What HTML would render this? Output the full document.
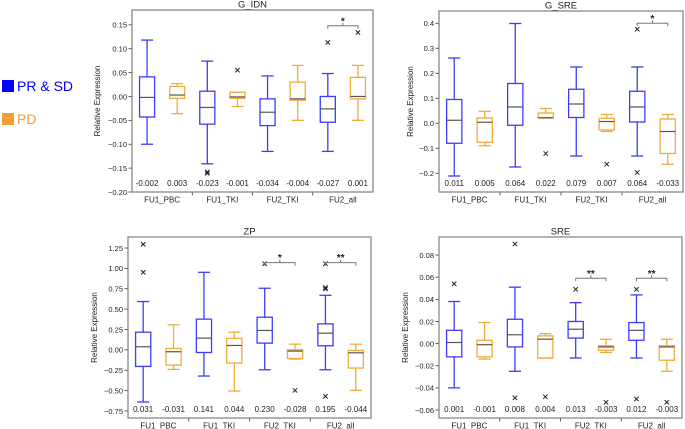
<!DOCTYPE html>
<html><head><meta charset="utf-8"><style>
html,body{margin:0;padding:0;background:#fff;}
svg{display:block;font-family:"Liberation Sans","DejaVu Sans",sans-serif;}
</style></head><body>
<svg id="fig" width="685" height="429" viewBox="0 0 685 429">
  <g>
    <rect x="2" y="80" width="12" height="12" fill="#0000ff"/>
    <text x="17" y="91" font-size="14" fill="#0000ff">PR &amp; SD</text>
    <rect x="2" y="113" width="12" height="12" fill="#f0a030"/>
    <text x="17" y="124" font-size="14" fill="#f0a030">PD</text>
  </g>
</svg>
<script>
const categories = ["FU1_PBC","FU1_TKI","FU2_TKI","FU2_all"];
// each box: [low whisker, Q1, median, Q3, high whisker]
const gidnBlue = [[-0.10,-0.043,-0.002,0.041,0.118],[-0.141,-0.058,-0.023,0.011,0.074],[-0.115,-0.061,-0.033,-0.005,0.043],[-0.115,-0.054,-0.026,0.0,0.048]];
const gidnOrange = [[-0.036,-0.004,0.003,0.021,0.027],[-0.021,-0.004,-0.001,0.009,0.009],[-0.05,-0.008,-0.005,0.030,0.065],[-0.05,-0.005,0.0,0.040,0.065]];
const gidnBlueOut = [[],[-0.158,-0.161],[],[0.113]];
const gidnOrangeOut = [[],[0.055],[],[0.134]];
const gidnLabels = ["-0.002","0.003","-0.023","-0.001","-0.034","-0.004","-0.027","0.001"];

const gsreBlue = [[-0.211,-0.08,0.012,0.095,0.261],[-0.175,-0.008,0.065,0.159,0.399],[-0.131,0.023,0.077,0.136,0.225],[-0.131,0.005,0.065,0.128,0.225]];
const gsreOrange = [[-0.09,-0.076,0.004,0.021,0.048],[0.021,0.021,0.022,0.041,0.059],[-0.033,-0.027,0.007,0.02,0.035],[-0.164,-0.121,-0.033,0.017,0.035]];
const gsreBlueOut = [[],[],[],[0.376,-0.197]];
const gsreOrangeOut = [[],[-0.121],[-0.164],[]];
const gsreLabels = ["0.011","0.005","0.064","0.022","0.079","0.007","0.064","-0.033"];

const zpBlue = [[-0.64,-0.203,0.038,0.217,0.593],[-0.321,-0.032,0.144,0.377,0.952],[-0.244,0.083,0.238,0.401,0.756],[-0.244,0.05,0.205,0.319,0.67]];
const zpOrange = [[-0.24,-0.187,-0.023,0.017,0.307],[-0.505,-0.162,0.054,0.14,0.217],[-0.113,-0.105,-0.015,0.001,0.07],[-0.497,-0.223,-0.036,-0.007,0.07]];
const zpBlueOut = [[1.295,0.952],[],[1.058],[1.058,0.764,0.748,-0.57]];
const zpOrangeOut = [[],[],[-0.497],[]];
const zpLabels = ["0.031","-0.031","0.141","0.044","0.230","-0.028","0.195","-0.044"];

const sreBlue = [[-0.04,-0.012,0.001,0.012,0.038],[-0.025,-0.003,0.008,0.022,0.051],[-0.013,0.005,0.013,0.02,0.037],[-0.013,0.003,0.012,0.019,0.044]];
const sreOrange = [[-0.014,-0.012,-0.001,0.003,0.019],[-0.013,-0.013,0.004,0.007,0.009],[-0.008,-0.006,-0.003,-0.002,0.004],[-0.025,-0.015,-0.003,-0.002,0.004]];
const sreBlueOut = [[0.054],[0.09,-0.049],[0.049],[0.049,-0.05]];
const sreOrangeOut = [[],[-0.048],[-0.053],[-0.053]];
const sreLabels = ["0.001","-0.001","0.008","0.004","0.013","-0.003","0.012","-0.003"];

const gidnTicks = [-0.20,-0.15,-0.10,-0.05,0.00,0.05,0.10,0.15];
const gsreTicks = [-0.2,-0.1,0.0,0.1,0.2,0.3,0.4];
const zpTicks = [-0.75,-0.50,-0.25,0.00,0.25,0.50,0.75,1.00,1.25];
const sreTicks = [-0.06,-0.04,-0.02,0.00,0.02,0.04,0.06,0.08];

const gidnSig = [[3,0.148,"*"]];
const gsreSig = [[3,0.40,"*"]];
const zpSig = [[2,1.07,"*"],[3,1.07,"**"]];
const sreSig = [[2,0.059,"**"],[3,0.059,"**"]];

const NS="http://www.w3.org/2000/svg";
const svg=document.getElementById('fig');
function mk(tag,attrs,parent){const e=document.createElementNS(NS,tag);for(const k in attrs)e.setAttribute(k,attrs[k]);parent.appendChild(e);return e;}
const BLUE="#3c3cff", ORANGE="#f2aa3a";
function fmt(v,d){const s=Math.abs(v).toFixed(d);return (v<-1e-9?"\u2212":"")+s;}

function panel(p){
  const g=mk('g',{},svg);
  
  
  const y=v=>p.bottom-(v-p.ymin)/(p.ymax-p.ymin)*(p.bottom-p.top);
  const gw=(p.right-p.left)/categories.length;
  const x=u=>p.left+u*gw;
  const t=mk('text',{x:(p.left+p.right)/2,y:p.top-2.5,'font-size':9.5,'text-anchor':'middle',fill:'#222'},g);
  t.textContent=p.title;
  
  
  const yl=mk('text',{x:0,y:0,'font-size':8,'text-anchor':'middle',fill:'#222',transform:`translate(${p.ylabX},${(p.top+p.bottom)/2}) rotate(-90)`},g);
  yl.textContent="Relative Expression";
  
  
  p.ticks.forEach(v=>{
    const yy=y(v);
    mk('line',{x1:p.left-3.5,x2:p.left,y1:yy,y2:yy,stroke:'#333','stroke-width':0.8},g);
    const tl=mk('text',{x:p.left-5,y:yy+2.8,'font-size':7.5,'text-anchor':'end',fill:'#222'},g);
    tl.textContent=fmt(v,p.dec);
    
    
  });
  categories.forEach((c,i)=>{
    if(i>0) mk('line',{x1:x(i),x2:x(i),y1:p.bottom,y2:p.bottom+3.5,stroke:'#333','stroke-width':0.8},g);
    const xl=mk('text',{x:x(i+0.5),y:p.bottom+10.5,'font-size':8,'text-anchor':'middle',fill:'#222'},g);
    xl.textContent=c;
    
    
  });
  function box(d,u,col,out,name){
    const bg=mk('g',{},g);
    
    
    const cx=x(u), hw=gw*0.125, cw=gw*0.1;
    mk('line',{x1:cx,x2:cx,y1:y(d[0]),y2:y(d[1]),stroke:col,'stroke-width':1.3},bg);
    mk('line',{x1:cx,x2:cx,y1:y(d[3]),y2:y(d[4]),stroke:col,'stroke-width':1.3},bg);
    mk('line',{x1:cx-cw,x2:cx+cw,y1:y(d[0]),y2:y(d[0]),stroke:col,'stroke-width':1.3},bg);
    mk('line',{x1:cx-cw,x2:cx+cw,y1:y(d[4]),y2:y(d[4]),stroke:col,'stroke-width':1.3},bg);
    mk('rect',{x:cx-hw,y:y(d[3]),width:2*hw,height:Math.max(0.5,y(d[1])-y(d[3])),fill:'none',stroke:col,'stroke-width':1.3},bg);
    mk('line',{x1:cx-hw,x2:cx+hw,y1:y(d[2]),y2:y(d[2]),stroke:'#555','stroke-width':1.2},bg);
    out.forEach(v=>{
      const yy=y(v),s=2.2;
      const o=mk('path',{d:`M${cx-s},${yy-s}L${cx+s},${yy+s}M${cx-s},${yy+s}L${cx+s},${yy-s}`,stroke:'#222','stroke-width':1},bg);
      
      
    });
  }
  categories.forEach((c,i)=>{
    box(p.blue[i],i+0.25,BLUE,p.bOut[i],p.name+'-box-prsd-'+c.toLowerCase());
    box(p.orange[i],i+0.75,ORANGE,p.oOut[i],p.name+'-box-pd-'+c.toLowerCase());
  });
  p.labels.forEach((s,k)=>{
    const u=Math.floor(k/2)+(k%2?0.75:0.25);
    const a=mk('text',{x:x(u),y:p.bottom-6,'font-size':8,'text-anchor':'middle',fill:'#222'},g);
    a.textContent=s;
    
    
  });
  p.sig.forEach(([i,v,st])=>{
    const x1=x(i+0.25),x2=x(i+0.75),yy=y(v),m=(x1+x2)/2;
    const b=mk('path',{d:`M${x1},${yy+3}L${x1},${yy}L${x2},${yy}L${x2},${yy+3}M${m},${yy}L${m},${yy-3}`,stroke:'#777','stroke-width':1,fill:'none'},g);
    
    
    const s=mk('text',{x:m,y:yy-1.5,'font-size':10,'font-weight':'bold','text-anchor':'middle',fill:'#222'},g);
    s.textContent=st;
    
    
  });
  mk('rect',{x:p.left,y:p.top,width:p.right-p.left,height:p.bottom-p.top,fill:'none',stroke:'#888','stroke-width':1.3},g);
}
panel({name:'g-idn',title:'G_IDN',left:132,right:373,top:10,bottom:192,ymin:-0.2,ymax:0.181,ticks:gidnTicks,dec:2,ylabX:100,blue:gidnBlue,orange:gidnOrange,bOut:gidnBlueOut,oOut:gidnOrangeOut,labels:gidnLabels,sig:gidnSig});
panel({name:'g-sre',title:'G_SRE',left:439,right:683,top:11,bottom:192,ymin:-0.275,ymax:0.449,ticks:gsreTicks,dec:1,ylabX:413,blue:gsreBlue,orange:gsreOrange,bOut:gsreBlueOut,oOut:gsreOrangeOut,labels:gsreLabels,sig:gsreSig});
panel({name:'zp',title:'ZP',left:128,right:371,top:237,bottom:418,ymin:-0.836,ymax:1.385,ticks:zpTicks,dec:2,ylabX:97,blue:zpBlue,orange:zpOrange,bOut:zpBlueOut,oOut:zpOrangeOut,labels:zpLabels,sig:zpSig});
panel({name:'sre',title:'SRE',left:439,right:682,top:237,bottom:418,ymin:-0.0672,ymax:0.0963,ticks:sreTicks,dec:2,ylabX:408,blue:sreBlue,orange:sreOrange,bOut:sreBlueOut,oOut:sreOrangeOut,labels:sreLabels,sig:sreSig});
</script>
</body></html>
